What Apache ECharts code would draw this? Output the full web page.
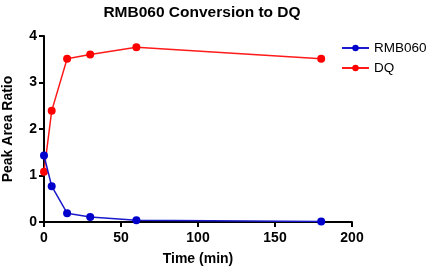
<!DOCTYPE html>
<html>
<head>
<meta charset="utf-8">
<script src="https://cdn.jsdelivr.net/npm/echarts@6/dist/echarts.min.js"></script>
<style>
  html, body { margin: 0; padding: 0; background: #fff; }
  #chart { width: 429px; height: 267px; }
</style>
</head>
<body>
<div id="chart"></div>
<script>
// 时间点 (min)
const times = [0, 5, 15, 30, 60, 180];
// 峰面积比
const rmb060 = [1.43, 0.77, 0.19, 0.11, 0.04, 0.01];
const dq = [1.08, 2.39, 3.51, 3.60, 3.76, 3.51];
const xTicks = [0, 50, 100, 150, 200];
const yTicks = [0, 1, 2, 3, 4];

const font = 'Liberation Sans, Arial, sans-serif';

function pairs(xs, ys) {
    return xs.map((x, i) => [x, ys[i]]);
}

let myChart = echarts.init(document.getElementById('chart'));

let option = {
    animation: false,
    backgroundColor: '#fff',
    title: {
        text: 'RMB060 Conversion to DQ',
        left: 197,
        textAlign: 'center',
        top: 0,
        textStyle: {
            fontFamily: font,
            fontWeight: 'bold',
            fontSize: 15.5,
            color: '#000'
        }
    },
    legend: {
        orient: 'vertical',
        left: 341,
        top: 41,
        itemWidth: 27,
        itemHeight: 8,
        itemGap: 6,
        padding: 0,
        textStyle: { fontFamily: font, fontSize: 13.5, color: '#000' },
        data: ['RMB060', 'DQ']
    },
    grid: {
        left: 44,
        right: 77,
        top: 36,
        bottom: 45,
        containLabel: false,
        outerBoundsMode: 'none'
    },
    xAxis: {
        type: 'value',
        min: xTicks[0],
        max: xTicks[xTicks.length - 1],
        interval: 50,
        name: 'Time (min)',
        nameLocation: 'middle',
        nameGap: 30,
        nameTextStyle: { fontFamily: font, fontWeight: 'bold', fontSize: 14, color: '#000' },
        axisLine: { onZero: false, lineStyle: { color: '#000', width: 2 } },
        axisTick: { show: true, length: 5, lineStyle: { color: '#000', width: 2 } },
        axisLabel: { fontFamily: font, fontWeight: 'bold', fontSize: 14, color: '#000', margin: 9 },
        splitLine: { show: false }
    },
    yAxis: {
        type: 'value',
        min: yTicks[0],
        max: yTicks[yTicks.length - 1],
        interval: 1,
        name: 'Peak Area Ratio',
        nameLocation: 'middle',
        nameGap: 29,
        nameTextStyle: { fontFamily: font, fontWeight: 'bold', fontSize: 14, color: '#000' },
        axisLine: { show: true, onZero: false, lineStyle: { color: '#000', width: 2 } },
        axisTick: { show: true, length: 5, lineStyle: { color: '#000', width: 2 } },
        axisLabel: { fontFamily: font, fontWeight: 'bold', fontSize: 14, color: '#000', margin: 7 },
        splitLine: { show: false }
    },
    series: [
        {
            name: 'RMB060',
            type: 'line',
            data: pairs(times, rmb060),
            symbol: 'circle',
            symbolSize: 8,
            itemStyle: { color: '#0000cc' },
            lineStyle: { color: '#1a1acc', width: 1.5 },
            z: 3
        },
        {
            name: 'DQ',
            type: 'line',
            data: pairs(times, dq),
            symbol: 'circle',
            symbolSize: 8,
            itemStyle: { color: '#ff0000' },
            lineStyle: { color: '#ff1a1a', width: 1.5 },
            z: 2
        }
    ]
};

myChart.setOption(option);
</script>
</body>
</html>
